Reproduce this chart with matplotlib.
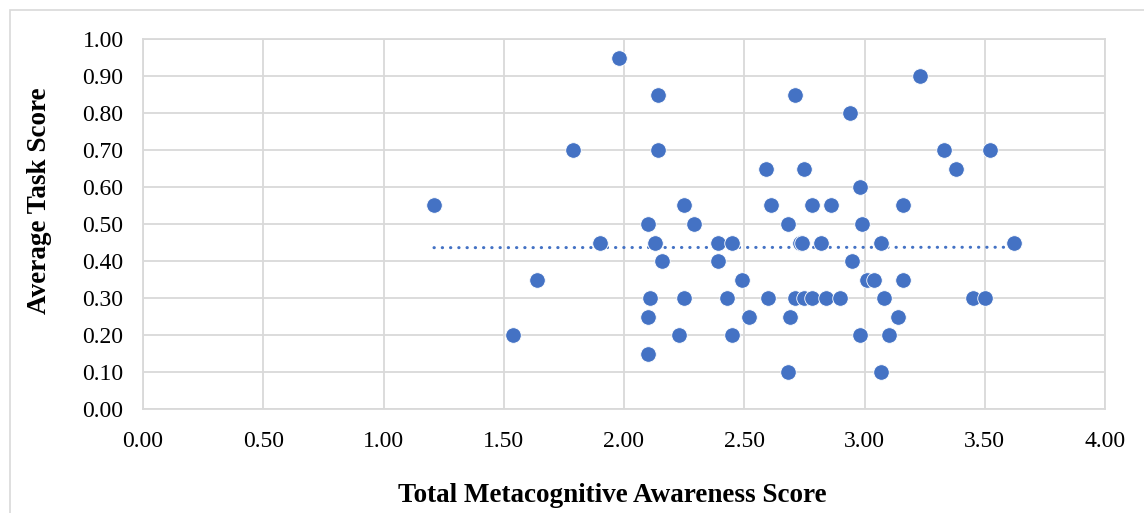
import numpy as np
import matplotlib
matplotlib.use("Agg")
import matplotlib.pyplot as plt
from matplotlib.patches import Rectangle

# Data
metacog_score = [
    1.21, 1.54, 1.64, 1.79, 1.90, 1.98, 2.14, 2.14, 2.10, 2.13,
    2.11, 2.10, 2.10, 2.16, 2.25, 2.29, 2.25, 2.23, 2.39, 2.39,
    2.45, 2.43, 2.49, 2.45, 2.52, 2.61, 2.78, 2.86, 3.16, 2.68,
    2.99, 2.73, 2.74, 2.82, 3.07, 3.62, 2.95, 3.01, 3.04, 3.16,
    2.60, 2.71, 2.75, 2.78, 2.84, 2.90, 3.08, 3.45, 3.50, 2.69,
    3.14, 2.98, 3.10, 2.68, 3.07, 3.23, 2.71, 2.94, 3.33, 3.52,
    3.38, 2.59, 2.75, 2.98,
]
task_score = [
    0.55, 0.20, 0.35, 0.70, 0.45, 0.95, 0.85, 0.70, 0.50, 0.45,
    0.30, 0.25, 0.15, 0.40, 0.55, 0.50, 0.30, 0.20, 0.45, 0.40,
    0.45, 0.30, 0.35, 0.20, 0.25, 0.55, 0.55, 0.55, 0.55, 0.50,
    0.50, 0.45, 0.45, 0.45, 0.45, 0.45, 0.40, 0.35, 0.35, 0.35,
    0.30, 0.30, 0.30, 0.30, 0.30, 0.30, 0.30, 0.30, 0.30, 0.25,
    0.25, 0.20, 0.20, 0.10, 0.10, 0.90, 0.85, 0.80, 0.70, 0.70,
    0.65, 0.65, 0.65, 0.60,
]
x_ticks = [0.0, 0.5, 1.0, 1.5, 2.0, 2.5, 3.0, 3.5, 4.0]
y_ticks = [0.0, 0.1, 0.2, 0.3, 0.4, 0.5, 0.6, 0.7, 0.8, 0.9, 1.0]

blue = "#4472C4"
grid_c = "#D9D9D9"
serif = ["Liberation Serif", "DejaVu Serif"]

W, H = 1144, 513
fig = plt.figure(figsize=(W / 100, H / 100), dpi=100)
fig.patch.set_facecolor("white")
# outer chart border
fig.patches.append(Rectangle((9.5 / W, -0.1), 1.2, (H - 9.5) / H + 0.1,
                             transform=fig.transFigure, fill=False,
                             edgecolor=grid_c, linewidth=1.2))

ax = fig.add_axes([143 / W, 1 - 409 / H, (1105 - 143) / W, (409 - 39) / H])
ax.set_xlim(0, 4)
ax.set_ylim(0, 1)
ax.set_xticks(x_ticks)
ax.set_yticks(y_ticks)
ax.set_xticklabels([f"{v:.2f}" for v in x_ticks], fontfamily=serif, fontsize=17)
ax.set_yticklabels([f"{v:.2f}" for v in y_ticks], fontfamily=serif, fontsize=17)
ax.tick_params(axis="y", length=0, pad=14, colors="black")
ax.tick_params(axis="x", length=0, pad=16, colors="black")
ax.grid(True, color=grid_c, linewidth=1.3)
ax.set_axisbelow(True)
for s in ax.spines.values():
    s.set_color(grid_c)
    s.set_linewidth(1.3)

ax.scatter(metacog_score, task_score, s=125, color=blue, edgecolors="white",
           linewidths=0.6, zorder=3)

# linear trendline
xs = np.array(metacog_score)
ys = np.array(task_score)
m, b = np.polyfit(xs, ys, 1)
tx = np.array([xs.min(), xs.max()])
ax.plot(tx, m * tx + b, color=blue, linewidth=2.2, linestyle=(0, (0.1, 2.6)),
        dash_capstyle="round", zorder=2)

fig.text(612 / W, 1 - 495 / H, "Total Metacognitive Awareness Score",
         fontfamily=serif, fontsize=19.5, fontweight="bold",
         ha="center", va="center")
fig.text(40 / W, 1 - 201 / H, "Average Task Score", fontfamily=serif,
         fontsize=19.5, fontweight="bold", rotation=90,
         ha="center", va="center")

fig.savefig("out.png", dpi=100)
